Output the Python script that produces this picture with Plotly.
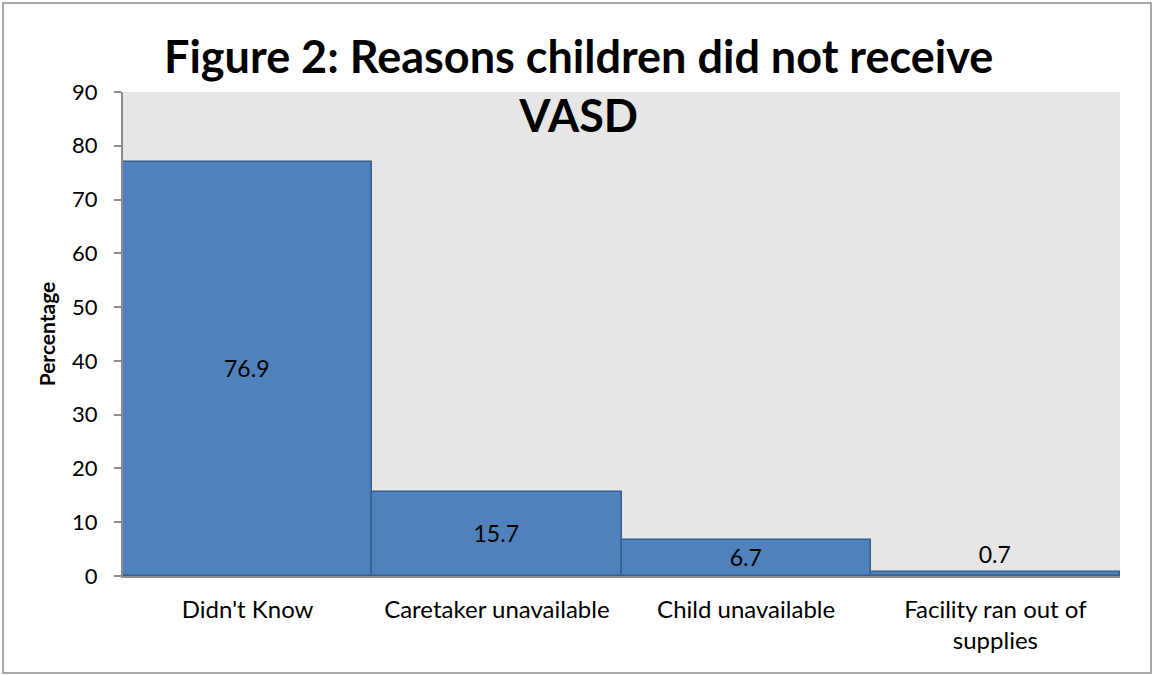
import plotly.graph_objects as go

categories = ["Didn't Know", "Caretaker unavailable", "Child unavailable", "Facility ran out of<br>supplies"]
values = [76.9, 15.7, 6.7, 0.7]
labels = ["76.9", "15.7", "6.7", "0.7"]
positions = ["inside", "inside", "inside", "outside"]
y_ticks = [0, 10, 20, 30, 40, 50, 60, 70, 80, 90]

FONT = "Lato"
W, H = 1153, 675
L, R, T, B = 123, 1120, 92, 576

fig = go.Figure(go.Bar(
    x=categories, y=values, text=labels, textposition=positions,
    insidetextanchor="middle", constraintext="none", cliponaxis=False,
    textfont=dict(family=FONT, size=23, color="black"),
    marker=dict(color="#4F81BD", line=dict(color="#3A5F8C", width=1.5)),
))

fig.update_layout(
    width=W, height=H,
    margin=dict(l=L, r=W - R, t=T, b=H - B),
    paper_bgcolor="white", plot_bgcolor="#E6E6E6",
    bargap=0, showlegend=False,
    font=dict(family=FONT, size=22, color="black"),
    xaxis=dict(showgrid=False, showline=True, linecolor="#8C8C8C", linewidth=2,
               ticks="", ticklabelstandoff=11, tickfont=dict(size=24)),
    yaxis=dict(range=[0, 90], tickvals=y_ticks, showgrid=False, zeroline=False,
               showline=True, linecolor="#8C8C8C", linewidth=2,
               ticks="outside", ticklen=7, tickcolor="#8C8C8C", tickwidth=1.5,
               ticklabelstandoff=12, tickfont=dict(size=22),
               title=dict(text="<b>Percentage</b>", font=dict(size=21), standoff=11)),
)

fig.add_annotation(
    text="<b>Figure 2: Reasons children did not receive<br>VASD</b>",
    xref="paper", yref="paper",
    x=(578 - L) / (R - L), y=(H - 86 - (H - B)) / (B - T),
    xanchor="center", yanchor="middle", showarrow=False,
    font=dict(family=FONT, size=45, color="black"), align="center",
)

def px2x(p):
    return (p - L) / (R - L)

def py2y(p):
    return (B - p) / (B - T)

fig.add_shape(type="rect", xref="paper", yref="paper",
              x0=px2x(3), x1=px2x(1151), y0=py2y(673), y1=py2y(3),
              line=dict(color="#8C8C8C", width=1.5), fillcolor="rgba(0,0,0,0)", layer="below")

fig.write_html("out.html")
